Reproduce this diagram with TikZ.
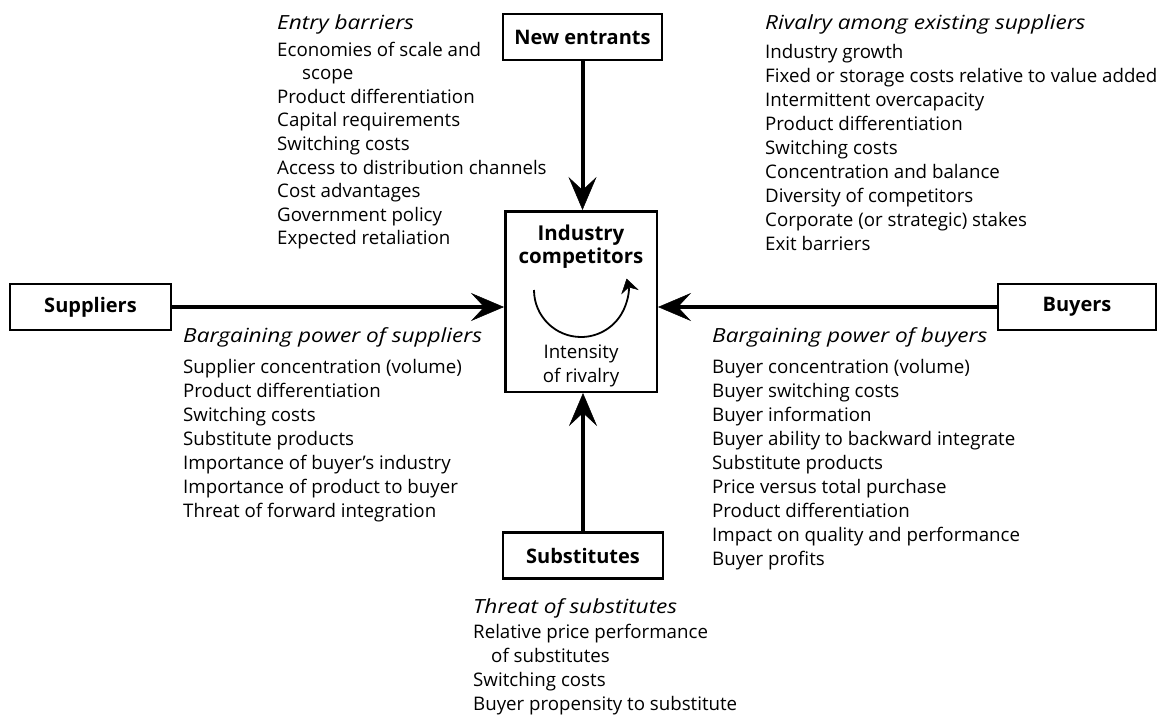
\documentclass[tikz,border=0pt]{standalone}
\usepackage{fontspec}
\setmainfont{Open Sans}[ItalicFeatures={FakeStretch=1.16}]
\usetikzlibrary{arrows.meta,positioning,calc}

\begin{document}
\begin{tikzpicture}[x=1pt, y=1pt,
    force/.style={draw, line width=2.5pt, minimum width=159pt, minimum height=46pt,
        inner sep=0pt, font=\bfseries\fontsize{20}{24}\selectfont},
    push/.style={line width=4pt, -{Stealth[length=33pt, width=28pt, inset=13pt, line width=0.5pt]}},
    heading/.style={anchor=base west, inner sep=0pt, font=\itshape\fontsize{19.5}{24}\selectfont},
    factor/.style={anchor=base west, inner sep=0pt, font=\fontsize{18.7}{24}\selectfont},
    inbox/.style={anchor=base, inner sep=0pt}]
    \useasboundingbox (0,0) rectangle (1161,-715);

    % The five forces
    \node[force] (entrants) at (582.5,-37) {New entrants};
    \node[force, minimum width=161pt] (suppliers) at (90.5,-307) {Suppliers};
    \node[force, minimum width=158pt] (buyers) at (1077,-307) {Buyers};
    \node[force, minimum width=160pt] (substitutes) at (583,-555.5) {Substitutes};
    \node[draw, line width=2.5pt, minimum width=151.5pt, minimum height=180.5pt] (rivals) at (581,-301.5) {};

    % Inside the centre box
    \node[inbox, font=\bfseries\fontsize{20.5}{24}\selectfont] (industry) at (581,-240) {Industry};
    \node[inbox, font=\bfseries\fontsize{20.5}{24}\selectfont] (competitors) at (581,-263) {competitors};
    \node[inbox, font=\fontsize{18.7}{24}\selectfont] (intensity) at (581,-358) {Intensity};
    \node[inbox, font=\fontsize{18.7}{24}\selectfont] (ofrivalry) at (581,-382) {of rivalry};
    \coordinate (arcstart) at (534,-290);
    \draw[line width=1.8pt, -{Stealth[length=14pt, width=18pt, inset=5pt, line width=0.5pt]}]
        (arcstart) arc[start angle=180, end angle=374, radius=47];

    % Arrows into the industry
    \draw[push] (entrants.south) -- (entrants.south |- rivals.north);
    \draw[push] (substitutes.north) -- (substitutes.north |- rivals.south);
    \draw[push] (suppliers.east) -- (suppliers.east -| rivals.west);
    \draw[push] (buyers.west) -- (buyers.west -| rivals.east);

    % Entry barriers
    \node[heading] (entryhead) at (277,-29) {Entry barriers};
    \foreach \txt [count=\i] in {Economies of scale and, \hspace*{25pt}scope,
        Product differentiation, Capital requirements, Switching costs,
        Access to distribution channels, Cost advantages, Government policy,
        Expected retaliation} {
        \node[factor] (entry\i) at (277,{-56-23.6*(\i-1)}) {\txt};
    }

    % Rivalry
    \node[heading] (rivalryhead) at (765,-29) {Rivalry among existing suppliers};
    \foreach \txt [count=\i] in {Industry growth,
        Fixed or storage costs relative to value added, Intermittent overcapacity,
        Product differentiation, Switching costs, Concentration and balance,
        Diversity of competitors, Corporate (or strategic) stakes, Exit barriers} {
        \node[factor] (rivalry\i) at (765,{-58-24*(\i-1)}) {\txt};
    }

    % Suppliers
    \node[heading] (supplierhead) at (183,-342) {Bargaining power of suppliers};
    \foreach \txt [count=\i] in {Supplier concentration (volume),
        Product differentiation, Switching costs, Substitute products,
        Importance of buyer’s industry, Importance of product to buyer,
        Threat of forward integration} {
        \node[factor] (supplier\i) at (183,{-373-24*(\i-1)}) {\txt};
    }

    % Buyers
    \node[heading] (buyerhead) at (712,-342) {Bargaining power of buyers};
    \foreach \txt [count=\i] in {Buyer concentration (volume),
        Buyer switching costs, Buyer information,
        Buyer ability to backward integrate, Substitute products,
        Price versus total purchase, Product differentiation,
        Impact on quality and performance, Buyer profits} {
        \node[factor] (buyer\i) at (712,{-373-24*(\i-1)}) {\txt};
    }

    % Substitutes
    \node[heading] (substhead) at (473,-613) {Threat of substitutes};
    \foreach \txt [count=\i] in {Relative price performance,
        \hspace*{18pt}of substitutes, Switching costs,
        Buyer propensity to substitute} {
        \node[factor] (subst\i) at (473,{-638-24*(\i-1)}) {\txt};
    }
\end{tikzpicture}
\end{document}
